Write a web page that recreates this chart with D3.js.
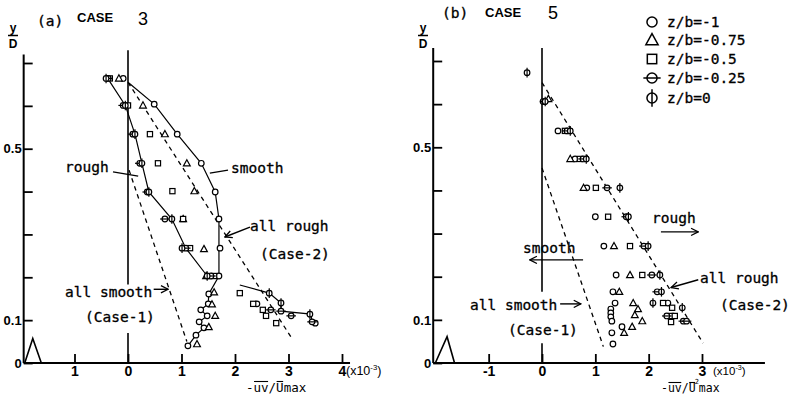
<!DOCTYPE html>
<html><head><meta charset="utf-8">
<script src="https://cdn.jsdelivr.net/npm/d3@7"></script>
<style>
body{margin:0;background:#fff;}
svg{display:block;}
text{fill:#000;}
text.ann{stroke:#000;stroke-width:0.3;}
</style>
</head><body>
<svg id="c" width="792" height="399"></svg>
<script>
// ---------------- DATA (x in units of 1e-3, y = y/D) ----------------
const seriesNames = ["z/b=-1", "z/b=-0.75", "z/b=-0.5", "z/b=-0.25", "z/b=0"];
const seriesShapes = ["circle", "triangle", "square", "theta", "phi"];

// Panel (a) CASE 3
const circleA = [[-0.09,0.664],[0.49,0.604],[0.92,0.534],[1.37,0.466],[1.63,0.399],[1.70,0.336],[1.72,0.268],[1.70,0.203],[1.51,0.161],[1.50,0.138],[1.36,0.124],[1.48,0.110],[1.33,0.096],[1.42,0.082],[1.27,0.065],[1.12,0.040],[2.41,0.138],[3.50,0.093]];
const triangleA = [[-0.17,0.664],[0.28,0.601],[0.69,0.534],[1.10,0.466],[1.24,0.401],[1.03,0.336],[1.42,0.266],[1.46,0.203],[1.61,0.165],[1.57,0.137],[1.63,0.110],[1.51,0.084],[1.29,0.044]];
const squareA = [[-0.34,0.664],[0.00,0.601],[0.41,0.534],[0.56,0.466],[0.83,0.401],[1.03,0.336],[1.16,0.268],[1.61,0.203],[2.09,0.163],[2.34,0.138],[2.52,0.124],[2.58,0.110],[2.77,0.093]];
const thetaA = [[-0.37,0.664],[-0.09,0.601],[0.09,0.534],[0.22,0.466],[0.36,0.399],[0.69,0.336],[1.08,0.268],[1.55,0.203],[2.86,0.121],[2.67,0.124],[3.05,0.110],[3.44,0.096]];
const phiA = [[-0.41,0.664],[-0.05,0.601],[0.13,0.534],[0.26,0.466],[0.39,0.399],[0.82,0.336],[1.01,0.268],[1.48,0.203],[2.64,0.163],[2.86,0.140],[3.40,0.114]];
const smoothLineA = [[0.00,0.655],[0.49,0.604],[0.92,0.534],[1.37,0.466],[1.63,0.399],[1.70,0.336],[1.70,0.268],[1.70,0.203],[1.51,0.161],[1.50,0.138],[1.36,0.124],[1.48,0.110],[1.33,0.096],[1.42,0.082],[1.27,0.065],[1.12,0.040]];
const roughLineA = [[-0.38,0.664],[-0.05,0.601],[0.13,0.534],[0.26,0.466],[0.39,0.399],[0.82,0.336],[1.08,0.268],[1.48,0.203]];
const roughTailA = [[2.09,0.182],[2.64,0.163],[2.86,0.140],[2.86,0.121],[3.42,0.114],[3.44,0.096]];
const case1A = [[0.02,0.450],[1.10,0.050]];
const case2A = [[0.00,0.655],[3.08,0.054]];

// Panel (b) CASE 5
const circleB = [[0.02,0.606],[0.30,0.538],[0.62,0.473],[0.84,0.406],[1.00,0.339],[1.16,0.271],[1.39,0.204],[1.33,0.165],[1.37,0.139],[1.29,0.125],[1.29,0.116],[1.29,0.107],[1.31,0.097],[1.50,0.084],[1.31,0.070],[1.33,0.044],[2.36,0.139]];
const triangleB = [[0.12,0.612],[0.53,0.473],[0.78,0.406],[1.35,0.271],[1.65,0.204],[1.45,0.165],[1.71,0.139],[1.80,0.125],[1.74,0.111],[1.88,0.097],[1.69,0.084],[1.54,0.070]];
const squareB = [[0.43,0.538],[0.71,0.473],[1.01,0.406],[1.24,0.339],[1.65,0.271],[1.88,0.204],[2.27,0.139],[2.44,0.128],[2.42,0.109],[2.49,0.109],[2.42,0.095]];
const thetaB = [[0.05,0.606],[0.47,0.538],[0.77,0.473],[1.22,0.406],[1.58,0.339],[1.91,0.271],[2.06,0.204],[2.16,0.165],[2.34,0.109],[2.65,0.097],[2.71,0.097]];
const phiB = [[-0.28,0.673],[0.06,0.606],[0.53,0.538],[0.83,0.473],[1.46,0.406],[1.62,0.339],[1.99,0.271],[2.21,0.204],[2.24,0.165],[2.08,0.139],[2.63,0.128]];
const case1B = [[0.00,0.452],[1.15,0.038]];
const case2B = [[0.00,0.650],[3.02,0.046]];

// Axes / ticks
const yTicks = [0, 0.1, 0.2, 0.3, 0.4, 0.5, 0.6, 0.7];
const yTickLabels = ["0", "0.1", "", "", "", "0.5", "", ""];
const xTicksA = [-1, 0, 1, 2, 3, 4];
const xTickLabelsA = ["1", "0", "1", "2", "3", "4"];
const xTicksB = [-1, 0, 1, 2, 3];
const xTickLabelsB = ["-1", "0", "1", "2", "3"];

// ---------------- DRAWING ----------------
const svg = d3.select("#c");
const MONO = "'DejaVu Sans Mono', monospace";
const SANS = "'Liberation Sans', Arial, sans-serif";

const defs = svg.append("defs");
defs.append("marker").attr("id","arr").attr("viewBox","0 0 10 10")
  .attr("refX",9).attr("refY",5).attr("markerWidth",9).attr("markerHeight",9)
  .attr("markerUnits","userSpaceOnUse").attr("orient","auto")
  .append("path").attr("d","M1,1 L9,5 L1,9").attr("fill","none").attr("stroke","#000").attr("stroke-width",1.4);

function drawShape(g, shape, cx, cy, s, sw) {
  const apply = sel => sel.attr("stroke","#000").attr("stroke-width",sw).attr("fill","#fff");
  if (shape === "circle") apply(g.append("circle").attr("cx",cx).attr("cy",cy).attr("r",2.8*s));
  else if (shape === "triangle") apply(g.append("path").attr("d",
      `M${cx},${cy-3.6*s} L${cx+3.4*s},${cy+2.6*s} L${cx-3.4*s},${cy+2.6*s} Z`));
  else if (shape === "square") apply(g.append("rect").attr("x",cx-2.6*s).attr("y",cy-2.6*s).attr("width",5.2*s).attr("height",5.2*s));
  else if (shape === "theta") {
    apply(g.append("circle").attr("cx",cx).attr("cy",cy).attr("r",2.8*s));
    g.append("line").attr("x1",cx-4.8*s).attr("x2",cx+4.8*s).attr("y1",cy).attr("y2",cy).attr("stroke","#000").attr("stroke-width",sw);
  } else if (shape === "phi") {
    apply(g.append("circle").attr("cx",cx).attr("cy",cy).attr("r",2.8*s));
    g.append("line").attr("x1",cx).attr("x2",cx).attr("y1",cy-4.8*s).attr("y2",cy+4.8*s).attr("stroke","#000").attr("stroke-width",sw);
  }
}

function panel(cfg) {
  const x = cfg.x, y = cfg.y;
  const g = svg.append("g");
  g.append("line").attr("x1", x(cfg.xMin)).attr("x2", x(cfg.xMax)).attr("y1", y(0)).attr("y2", y(0))
    .attr("stroke","#000").attr("stroke-width",2);
  const xa = g.append("g").attr("transform",`translate(0,${y(0)})`)
    .call(d3.axisBottom(x).tickValues(cfg.xTicks).tickFormat((d,i)=>cfg.xTickLabels[i])
      .tickSizeInner(-9).tickSizeOuter(0).tickPadding(3));
  xa.select(".domain").remove();
  xa.selectAll(".tick line").attr("stroke-width",1.8);
  xa.selectAll("text").attr("font-family",SANS).attr("font-weight","bold").attr("font-size",14).attr("dy","0.7em");
  g.append("line").attr("x1", x(cfg.yAxisAt)).attr("x2", x(cfg.yAxisAt)).attr("y1", y(0)).attr("y2", y(cfg.yTop))
    .attr("stroke","#000").attr("stroke-width",2);
  const ya = g.append("g").attr("transform",`translate(${x(cfg.yAxisAt)},0)`)
    .call(d3.axisLeft(y).tickValues(yTicks).tickFormat((d,i)=>yTickLabels[i])
      .tickSizeInner(-9).tickSizeOuter(0).tickPadding(2));
  ya.select(".domain").remove();
  ya.selectAll(".tick line").attr("stroke-width",1.8);
  ya.selectAll("text").attr("font-family",SANS).attr("font-weight","bold").attr("font-size",13);
  cfg.zeroSegs.forEach(s => g.append("line").attr("x1",x(0)).attr("x2",x(0)).attr("y1",y(s[0])).attr("y2",y(s[1]))
    .attr("stroke","#000").attr("stroke-width",1.6));
  const ln = d3.line().x(d=>x(d[0])).y(d=>y(d[1]));
  g.append("path").attr("d", ln(cfg.glyph)).attr("fill","none").attr("stroke","#000").attr("stroke-width",1.6);
  cfg.dashed.forEach(d => g.append("path").attr("d", ln(d)).attr("fill","none")
    .attr("stroke","#000").attr("stroke-width",1.3).attr("stroke-dasharray","4.5,4"));
  cfg.solid.forEach(d => g.append("path").attr("d", ln(d)).attr("fill","none")
    .attr("stroke","#000").attr("stroke-width",1.2));
  cfg.series.forEach((pts, i) => {
    pts.forEach(p => drawShape(g, seriesShapes[i], x(p[0]), y(p[1]), 1, 1.2));
  });
  cfg.leaders.forEach(a => {
    const l = g.append("line").attr("x1",x(a[0][0])).attr("y1",y(a[0][1])).attr("x2",x(a[1][0])).attr("y2",y(a[1][1]))
      .attr("stroke","#000").attr("stroke-width",1.4);
    if (a[2]) l.attr("marker-end","url(#arr)");
  });
  cfg.texts.forEach(t => g.append("text").attr("class", t[3] ? null : "ann").attr("x",t[1]).attr("y",t[2]).attr("font-family",t[3]||MONO)
    .attr("font-size",t[4]||14.5).attr("font-weight",t[5]||"normal").text(t[0]));
  return g;
}

// Panel (a)
const xA = d3.scaleLinear().domain([0, 4]).range([128, 342]);
const yA = d3.scaleLinear().domain([0, 0.7]).range([363, 63]);
panel({
  x: xA, y: yA, xMin: -1.95, xMax: 4.15, yAxisAt: -1.95, yTop: 0.72,
  xTicks: xTicksA, xTickLabels: xTickLabelsA,
  zeroSegs: [[0.73, 0.183], [0.07, 0]],
  glyph: [[-1.93,0],[-1.78,0.057],[-1.62,0]],
  dashed: [case1A, case2A],
  solid: [smoothLineA, roughLineA, roughTailA],
  series: [circleA, triangleA, squareA, thetaA, phiA],
  leaders: [
    [[-0.28,0.446],[0.19,0.436],false],
    [[1.87,0.450],[1.53,0.443],false],
    [[2.28,0.317],[1.81,0.294],true],
    [[0.48,0.172],[0.75,0.172],true]
  ],
  texts: [
    ["(a)", 37, 26], ["CASE", 77, 22, SANS, 13, "bold"], ["3", 138, 25, SANS, 18],
    ["rough", 65, 172], ["smooth", 231, 173],
    ["all rough", 250, 231], ["(Case-2)", 260, 259],
    ["all smooth", 65, 297], ["(Case-1)", 85, 322]
  ]
});

// Panel (b)
const xB = d3.scaleLinear().domain([0, 3]).range([542, 702]);
const yB = d3.scaleLinear().domain([0, 0.7]).range([363, 61]);
panel({
  x: xB, y: yB, xMin: -2.04, xMax: 4.18, yAxisAt: -2.04, yTop: 0.73,
  xTicks: xTicksB, xTickLabels: xTickLabelsB,
  zeroSegs: [[0.73, 0.165], [0.046, 0]],
  glyph: [[-2.0,0],[-1.78,0.061],[-1.64,0]],
  dashed: [case1B, case2B],
  solid: [],
  series: [circleB, triangleB, squareB, thetaB, phiB],
  leaders: [
    [[2.23,0.304],[2.93,0.304],true],
    [[0.77,0.239],[-0.23,0.239],true],
    [[2.93,0.193],[2.42,0.175],true],
    [[0.34,0.137],[0.73,0.137],true]
  ],
  texts: [
    ["(b)", 442, 18], ["CASE", 485, 17, SANS, 13, "bold"], ["5", 548, 19, SANS, 18],
    ["rough", 652, 223], ["smooth", 523, 253],
    ["all rough", 700, 283], ["(Case-2)", 720, 310],
    ["all smooth", 470, 310], ["(Case-1)", 508, 335]
  ]
});

// y/D labels
[13, 423].forEach(cx => {
  svg.append("text").attr("x",cx).attr("y",32).attr("text-anchor","middle").attr("font-family",SANS).attr("font-weight","bold").attr("font-size",12).text("y");
  svg.append("line").attr("x1",cx-5).attr("x2",cx+5).attr("y1",35.5).attr("y2",35.5).attr("stroke","#000").attr("stroke-width",1.5);
  svg.append("text").attr("x",cx).attr("y",48).attr("text-anchor","middle").attr("font-family",SANS).attr("font-weight","bold").attr("font-size",12).text("D");
});

// x-axis titles with overlines drawn from glyph extents
function xTitle(x0, sup, fs) {
  const t = svg.append("text").attr("x",x0).attr("y",392).attr("font-family",MONO).attr("font-size",fs);
  t.text(sup ? "-uv/U" : "-uv/Umax");
  if (sup) {
    t.append("tspan").attr("font-size",7).attr("dy",-8.5).attr("dx",-1).text("2");
    t.append("tspan").attr("dx",0).attr("dy",8.5).text("max");
  }
  const node = t.node();
  [[1,2],[4,4]].forEach(([a,b]) => {
    const e1 = node.getExtentOfChar(a), e2 = node.getExtentOfChar(b);
    svg.append("line").attr("x1",e1.x+0.5).attr("x2",e2.x+e2.width-0.5)
      .attr("y1",e1.y+1.5).attr("y2",e1.y+1.5).attr("stroke","#000").attr("stroke-width",1.1);
  });
}
xTitle(246, false, 12.5);
xTitle(661, true, 11.5);
function xUnit(x0, fs) {
  const t = svg.append("text").attr("x",x0).attr("y",375).attr("font-family",SANS).attr("font-size",fs);
  t.append("tspan").text("(x10");
  t.append("tspan").attr("font-size",fs*0.62).attr("dy",-5).text("-3");
  t.append("tspan").attr("dy",5).text(")");
}
xUnit(346, 12.5);
xUnit(713, 11.5);

// legend
const legY = [22, 40, 59, 78, 98];
seriesNames.forEach((n, i) => {
  const lg = svg.append("g");
  drawShape(lg, seriesShapes[i], 652, legY[i], 1.8, 1.5);
  lg.append("text").attr("class","ann").attr("x",667).attr("y",legY[i]+5).attr("font-family",MONO).attr("font-size",14.5).text(n);
});
</script>
</body></html>
